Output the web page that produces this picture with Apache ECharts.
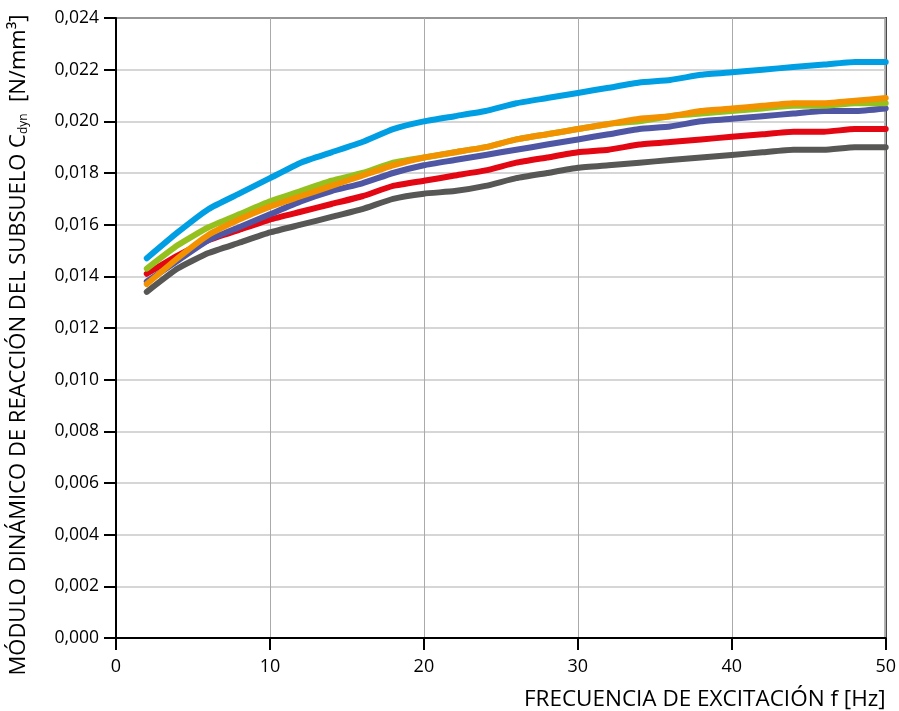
<!DOCTYPE html>
<html>
<head>
<meta charset="utf-8">
<script src="https://cdn.jsdelivr.net/npm/echarts@6/dist/echarts.min.js"></script>
<style>html,body{margin:0;padding:0;background:#fff}#c{width:899px;height:711px}</style>
</head>
<body>
<div id="c"></div>
<script>
const freq = [2,4,6,8,10,12,14,16,18,20,22,24,26,28,30,32,34,36,38,40,42,44,46,48,50];
const gray   = [0.0134,0.0143,0.0149,0.0153,0.0157,0.0160,0.0163,0.0166,0.0170,0.0172,0.0173,0.0175,0.0178,0.0180,0.0182,0.0183,0.0184,0.0185,0.0186,0.0187,0.0188,0.0189,0.0189,0.0190,0.0190];
const red    = [0.0141,0.0148,0.0154,0.0158,0.0162,0.0165,0.0168,0.0171,0.0175,0.0177,0.0179,0.0181,0.0184,0.0186,0.0188,0.0189,0.0191,0.0192,0.0193,0.0194,0.0195,0.0196,0.0196,0.0197,0.0197];
const purple = [0.0138,0.0146,0.0154,0.0159,0.0164,0.0169,0.0173,0.0176,0.0180,0.0183,0.0185,0.0187,0.0189,0.0191,0.0193,0.0195,0.0197,0.0198,0.0200,0.0201,0.0202,0.0203,0.0204,0.0204,0.0205];
const green  = [0.0143,0.0152,0.0159,0.0164,0.0169,0.0173,0.0177,0.0180,0.0184,0.0186,0.0188,0.0190,0.0193,0.0195,0.0197,0.0199,0.0200,0.0202,0.0203,0.0204,0.0205,0.0206,0.0206,0.0207,0.0207];
const orange = [0.0137,0.0147,0.0156,0.0162,0.0167,0.0171,0.0175,0.0179,0.0183,0.0186,0.0188,0.0190,0.0193,0.0195,0.0197,0.0199,0.0201,0.0202,0.0204,0.0205,0.0206,0.0207,0.0207,0.0208,0.0209];
const blue   = [0.0147,0.0157,0.0166,0.0172,0.0178,0.0184,0.0188,0.0192,0.0197,0.0200,0.0202,0.0204,0.0207,0.0209,0.0211,0.0213,0.0215,0.0216,0.0218,0.0219,0.0220,0.0221,0.0222,0.0223,0.0223];

const FONT = 'Open Sans';
function pairs(ys){ return freq.map((f,i)=>[f, ys[i]]); }
function line(name, ys, color){
  return { name, type:'line', data:pairs(ys), symbol:'none', smooth:0.15,
    lineStyle:{ color, width:6, cap:'round', join:'round' } };
}
const chart = echarts.init(document.getElementById('c'));
chart.setOption({
  animation:false,
  grid:{ left:116, right:13, top:18, bottom:72, show:true, borderColor:'#000', borderWidth:2, backgroundColor:'transparent' },
  xAxis:{ type:'value', min:0, max:50, interval:10,
    axisLine:{ show:true, lineStyle:{ color:'#000', width:2 } },
    axisTick:{ show:true, length:12, lineStyle:{ color:'#000', width:2 } },
    axisLabel:{ color:'#000', fontFamily:FONT, fontSize:18, margin:20 },
    splitLine:{ show:true, lineStyle:{ color:'#aaa', width:1 } },
    name:'FRECUENCIA DE EXCITACIÓN f [Hz]', nameLocation:'end', nameGap:0,
    nameTextStyle:{ color:'#000', fontFamily:FONT, fontSize:22.5, align:'right', verticalAlign:'top', padding:[50,0,0,0] }
  },
  yAxis:{ type:'value', min:0, max:0.024, interval:0.002,
    axisLine:{ show:true, lineStyle:{ color:'#000', width:2 } },
    axisTick:{ show:true, length:12, lineStyle:{ color:'#000', width:2 } },
    axisLabel:{ color:'#000', fontFamily:FONT, fontSize:17.5, margin:17,
      formatter:v=>v.toFixed(3).replace('.',',') },
    splitLine:{ show:true, lineStyle:{ color:'#c8c8c8', width:1.5 } },
    name:'MÓDULO DINÁMICO DE REACCIÓN DEL SUBSUELO C{sub|dyn}  [N/mm³]', nameLocation:'middle', nameGap:86,
    nameTextStyle:{ color:'#000', fontFamily:FONT, fontSize:22, padding:[0,34,0,0],
      rich:{ sub:{ fontFamily:FONT, fontSize:12, color:'#000', verticalAlign:'bottom', padding:[9,0,0,0] } } }
  },
  series:[
    line('gris', gray, '#575756'),
    line('rojo', red, '#E30613'),
    line('violeta', purple, '#4F56A3'),
    line('verde', green, '#95C11F'),
    line('naranja', orange, '#F39200'),
    line('azul', blue, '#009FE3')
  ]
});
</script>
</body>
</html>
